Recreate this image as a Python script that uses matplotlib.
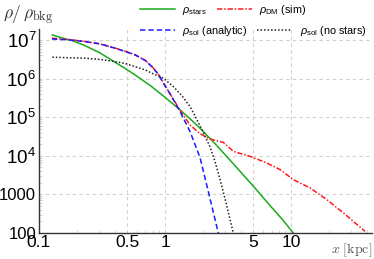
import matplotlib
matplotlib.use("Agg")
import matplotlib.pyplot as plt
from matplotlib.ticker import FixedLocator, FixedFormatter, NullFormatter
from matplotlib.lines import Line2D

plt.rcParams['font.family'] = ['Liberation Sans', 'DejaVu Sans']
plt.rcParams['mathtext.fontset'] = 'custom'
plt.rcParams['mathtext.rm'] = 'Liberation Sans'
plt.rcParams['mathtext.it'] = 'Liberation Sans:italic'
plt.rcParams['mathtext.fallback'] = 'cm'

# ---------------- data ----------------
x_stars = [0.1275, 0.1522, 0.1818, 0.2318, 0.3049, 0.3797, 0.4815, 0.5779, 0.7603, 1.0,
           1.315, 1.579, 1.896, 2.494, 3.281, 4.159, 5.179, 6.813, 8.483, 10.43]
rho_stars = [1.346e7, 1.127e7, 9.71e6, 7.12e6, 4.61e6, 2.953e6, 1.835e6, 1.246e6, 6.67e5, 3.268e5,
             1.553e5, 9.09e4, 5.17e4, 2.055e4, 7.70e3, 3.249e3, 1.455e3, 513, 230, 99.4]

x_sol = [0.1268, 0.1762, 0.2318, 0.3049, 0.4010, 0.4815, 0.5779, 0.6940, 0.7843, 0.8799,
         0.9694, 1.096, 1.315, 1.579, 1.896, 2.235, 2.649]
rho_sol = [1.061e7, 1.0e7, 9.04e6, 7.88e6, 6.10e6, 5.05e6, 4.10e6, 2.953e6, 2.042e6, 1.322e6,
           7.61e5, 4.02e5, 1.404e5, 4.27e4, 8.93e3, 988, 99.4]

x_dm = [0.1262, 0.1762, 0.2318, 0.3049, 0.4010, 0.4815, 0.5779, 0.6940, 0.7843, 0.8799,
        0.9694, 1.096, 1.358, 1.578, 1.897, 2.275, 2.587, 2.904, 3.483, 4.732,
        6.412, 8.185, 10.42, 14.16, 19.19, 26.0, 38.7]
rho_dm = [1.107e7, 1.02e7, 9.12e6, 7.95e6, 6.17e6, 5.10e6, 4.15e6, 3.0e6, 2.08e6, 1.35e6,
          7.8e5, 4.05e5, 1.276e5, 6.31e4, 3.72e4, 2.72e4, 2.45e4, 2.22e4, 1.30e4, 9.66e3,
          6.52e3, 4.38e3, 2.41e3, 1.47e3, 735, 333, 110]

x_nostars = [0.1275, 0.2318, 0.3049, 0.4010, 0.4815, 0.5779, 0.6940, 0.7843, 0.9694, 1.164,
             1.364, 1.579, 1.896, 2.275, 2.494, 2.735, 3.049, 3.484]
rho_nostars = [3.57e6, 3.37e6, 3.13e6, 2.75e6, 2.47e6, 2.04e6, 1.68e6, 1.38e6, 1.02e6, 6.21e5,
               3.57e5, 1.89e5, 6.0e4, 1.72e4, 7.05e3, 2.41e3, 614, 99.4]

xticks = [0.1, 0.5, 1, 5, 10]
xticklabels = ['0.1', '0.5', '1', '5', '10']
yticks = [100, 1000, 1e4, 1e5, 1e6, 1e7]
yticklabels = ['100', '1000', r'$10^4$', r'$10^5$', r'$10^6$', r'$10^7$']

labels = [r'$\rho_{\rm stars}$', r'$\rho_{\rm DM}$ (sim)',
          r'$\rho_{\rm sol}$ (analytic)', r'$\rho_{\rm sol}$ (no stars)']

# ---------------- figure ----------------
W, H = 374, 259
fig = plt.figure(figsize=(W / 100, H / 100), dpi=100)
ax = fig.add_axes([39 / W, 1 - 233 / H, (372 - 39) / W, (233 - 29) / H])

green, red, blue, black = '#1aaa1a', '#ff1a1a', '#1a1aff', '#222222'
lw = 1.1
ax.plot(x_dm, rho_dm, color=red, lw=lw, dashes=(3.5, 1.2, 1, 1.2), zorder=3)
ax.plot(x_sol, rho_sol, color=blue, lw=lw, dashes=(3.5, 2), zorder=4)
ax.plot(x_nostars, rho_nostars, color=black, lw=lw, dashes=(1, 1.3), zorder=3)
ax.plot(x_stars, rho_stars, color=green, lw=lw, zorder=2)

ax.set_xscale('log')
ax.set_yscale('log')
ax.set_xlim(0.1, 43.9)
ax.set_ylim(100, 1.92e7)

ax.xaxis.set_major_locator(FixedLocator(xticks))
ax.xaxis.set_major_formatter(FixedFormatter(xticklabels))
ax.yaxis.set_major_locator(FixedLocator(yticks))
ax.yaxis.set_major_formatter(FixedFormatter(yticklabels))
ax.xaxis.set_minor_formatter(NullFormatter())
ax.yaxis.set_minor_formatter(NullFormatter())
ax.tick_params(axis='x', which='major', length=0, labelsize=12.5, pad=1.5)
ax.tick_params(axis='y', which='major', length=0, labelsize=12, pad=2)
ax.tick_params(axis='both', which='minor', length=2, direction='in', color='#cccccc', width=0.6)
for t, s in zip(ax.get_yticklabels(), yticklabels):
    if '^' in s:
        t.set_fontsize(13.5)

for s in ['top', 'right']:
    ax.spines[s].set_visible(False)
for s in ['left', 'bottom']:
    ax.spines[s].set_color('#333333')
    ax.spines[s].set_linewidth(1.0)

ax.grid(True, which='major', color='#d0d0d0', lw=0.8, dashes=(3, 3))
ax.set_axisbelow(True)

fig.text(3 / W, 1 - 15 / H, r'$\rho/\,\rho_{\rm bkg}$', fontsize=12.5, color='#333333',
         va='center', ha='left', math_fontfamily='cm')
fig.text(372 / W, 1 - 250 / H, r'$x\ [\rm kpc]$', fontsize=10, color='#555555',
         va='center', ha='right', math_fontfamily='cm')

h_green = Line2D([], [], color=green, lw=lw)
h_red = Line2D([], [], color=red, lw=lw, dashes=(3.5, 1.2, 1, 1.2))
h_blue = Line2D([], [], color=blue, lw=lw, dashes=(3.5, 2))
h_black = Line2D([], [], color=black, lw=lw, dashes=(1, 1.3))

common = dict(ncol=2, frameon=False, fontsize=7.8, borderpad=0, borderaxespad=0,
              handlelength=3.2, handletextpad=0.72, columnspacing=0.9, loc='center left')
leg1 = fig.legend([h_green, h_red], labels[:2], bbox_to_anchor=(140 / W, 1 - 10 / H), **common)
leg2 = fig.legend([h_blue, h_black], labels[2:], bbox_to_anchor=(140 / W, 1 - 31 / H), **common)

fig.savefig('out.png', dpi=100)
